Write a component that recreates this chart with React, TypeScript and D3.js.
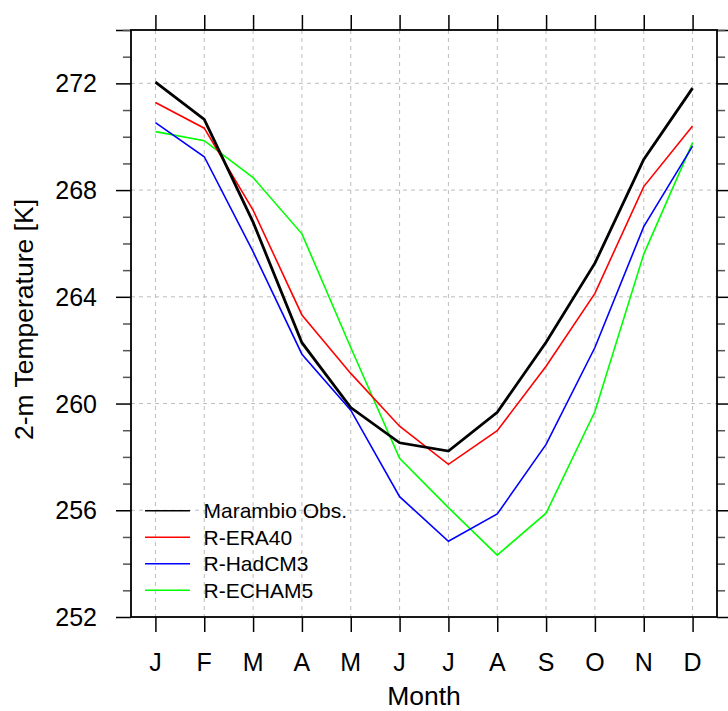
import React, { useRef, useEffect } from 'react';
import * as d3 from 'd3';

const months = ['J', 'F', 'M', 'A', 'M', 'J', 'J', 'A', 'S', 'O', 'N', 'D'];

const marambioObs = [272.05, 270.65, 266.8, 262.28, 259.85, 258.53, 258.22, 259.67, 262.3, 265.26, 269.15, 271.82];
const rEra40 = [271.28, 270.32, 267.25, 263.32, 261.13, 259.15, 257.72, 258.98, 261.4, 264.13, 268.13, 270.4];
const rHadCM3 = [270.53, 269.25, 265.69, 261.85, 259.75, 256.51, 254.84, 255.86, 258.47, 262.1, 266.63, 269.65];
const rEcham5 = [270.19, 269.85, 268.47, 266.36, 262.1, 257.95, 256.1, 254.32, 255.89, 259.7, 265.6, 269.78];

const yMajorTicks = [252, 256, 260, 264, 268, 272];

const series = [
  { name: 'Marambio Obs.', values: marambioObs, color: '#000000', width: 2.8, legendWidth: 1.6 },
  { name: 'R-ERA40', values: rEra40, color: '#ff0000', width: 1.6, legendWidth: 1.6 },
  { name: 'R-HadCM3', values: rHadCM3, color: '#0000ff', width: 1.6, legendWidth: 1.6 },
  { name: 'R-ECHAM5', values: rEcham5, color: '#00ff00', width: 1.6, legendWidth: 1.6 },
];

const W = 728;
const H = 711;
const margin = { left: 131, right: 11, top: 30, bottom: 94 };
const FONT = '"Liberation Sans", Arial, Helvetica, sans-serif';

const App = () => {
  const svgRef = useRef<SVGSVGElement | null>(null);

  useEffect(() => {
    if (!svgRef.current) return;
    const root = d3.select(svgRef.current);
    root.selectAll('*').remove();

    const width = W - margin.left - margin.right;
    const height = H - margin.top - margin.bottom;

    const svg = root.append('g').attr('transform', `translate(${margin.left},${margin.top})`);

    const x = d3.scaleLinear().domain([-0.5, 11.5]).range([0, width]);
    const y = d3.scaleLinear().domain([252, 274]).range([height, 0]);

    const idx = d3.range(months.length);
    const minorTicks = d3.range(252, 275, 1).filter((v) => !yMajorTicks.includes(v));

    // grid
    svg.append('g')
      .selectAll('line')
      .data(idx)
      .join('line')
        .attr('x1', (d) => x(d))
        .attr('x2', (d) => x(d))
        .attr('y1', 0)
        .attr('y2', height)
        .attr('stroke', '#bdbdbd')
        .attr('stroke-width', 1)
        .attr('stroke-dasharray', '4,4');

    svg.append('g')
      .selectAll('line')
      .data(yMajorTicks.filter((v) => v > 252))
      .join('line')
        .attr('x1', 0)
        .attr('x2', width)
        .attr('y1', (d) => y(d))
        .attr('y2', (d) => y(d))
        .attr('stroke', '#bdbdbd')
        .attr('stroke-width', 1)
        .attr('stroke-dasharray', '4,4');

    // axes
    const tickStyle = (g, color) => {
      g.select('.domain').remove();
      g.selectAll('.tick line').attr('stroke', color).attr('stroke-width', 1.5);
      g.selectAll('.tick text').remove();
    };

    svg.append('g')
      .attr('transform', `translate(0,${height})`)
      .call(d3.axisBottom(x).tickValues(idx).tickSize(15))
      .call((g) => tickStyle(g, '#000'));

    svg.append('g')
      .call(d3.axisTop(x).tickValues(idx).tickSize(15))
      .call((g) => tickStyle(g, '#000'));

    svg.append('g')
      .call(d3.axisLeft(y).tickValues(yMajorTicks.concat([274])).tickSize(15))
      .call((g) => tickStyle(g, '#000'));

    svg.append('g')
      .call(d3.axisLeft(y).tickValues(minorTicks).tickSize(8))
      .call((g) => tickStyle(g, '#555'));

    svg.append('g')
      .attr('transform', `translate(${width},0)`)
      .call(d3.axisRight(y).tickValues(yMajorTicks.concat([274])).tickSize(15))
      .call((g) => tickStyle(g, '#000'));

    svg.append('g')
      .attr('transform', `translate(${width},0)`)
      .call(d3.axisRight(y).tickValues(minorTicks).tickSize(8))
      .call((g) => tickStyle(g, '#555'));

    // tick labels
    svg.append('g')
      .selectAll('text')
      .data(idx)
      .join('text')
        .attr('x', (d) => x(d))
        .attr('y', height + 54)
        .attr('text-anchor', 'middle')
        .attr('font-family', FONT)
        .attr('font-size', 25)
        .text((d) => months[d]);

    svg.append('g')
      .selectAll('text')
      .data(yMajorTicks)
      .join('text')
        .attr('x', -34)
        .attr('y', (d) => y(d) + 9)
        .attr('text-anchor', 'end')
        .attr('font-family', FONT)
        .attr('font-size', 25)
        .text((d) => d);

    // axis titles
    svg.append('text')
      .attr('x', width / 2)
      .attr('y', height + 88)
      .attr('text-anchor', 'middle')
      .attr('font-family', FONT)
      .attr('font-size', 26.5)
      .text('Month');

    svg.append('text')
      .attr('transform', `translate(${-margin.left + 33},${height / 2 - 4}) rotate(-90)`)
      .attr('text-anchor', 'middle')
      .attr('font-family', FONT)
      .attr('font-size', 26.5)
      .text('2-m Temperature [K]');

    // lines
    const line = d3.line<number>()
      .x((d, i) => x(i))
      .y((d) => y(d));

    [...series].reverse().forEach((s) => {
      svg.append('path')
        .datum(s.values)
        .attr('d', line)
        .attr('fill', 'none')
        .attr('stroke', s.color)
        .attr('stroke-width', s.width)
        .attr('stroke-linejoin', 'miter');
    });

    // legend
    const legend = svg.append('g').attr('transform', `translate(14,${510.7 - margin.top})`);
    series.forEach((s, i) => {
      const row = legend.append('g').attr('transform', `translate(0,${i * 26.5})`);
      row.append('line')
        .attr('x1', 0)
        .attr('x2', 45)
        .attr('y1', 0)
        .attr('y2', 0)
        .attr('stroke', s.color)
        .attr('stroke-width', s.legendWidth);
      row.append('text')
        .attr('x', 58.5)
        .attr('y', 7.5)
        .attr('font-family', FONT)
        .attr('font-size', 21)
        .text(s.name);
    });

    // frame
    svg.append('rect')
      .attr('x', 0)
      .attr('y', 0)
      .attr('width', width)
      .attr('height', height)
      .attr('fill', 'none')
      .attr('stroke', '#000')
      .attr('stroke-width', 1.8);
  }, []);

  return (
    <svg
      ref={svgRef}
      width={W}
      height={H}
      style={{ position: 'absolute', left: 0, top: 0, background: '#fff' }}
    />
  );
};

export default App;
